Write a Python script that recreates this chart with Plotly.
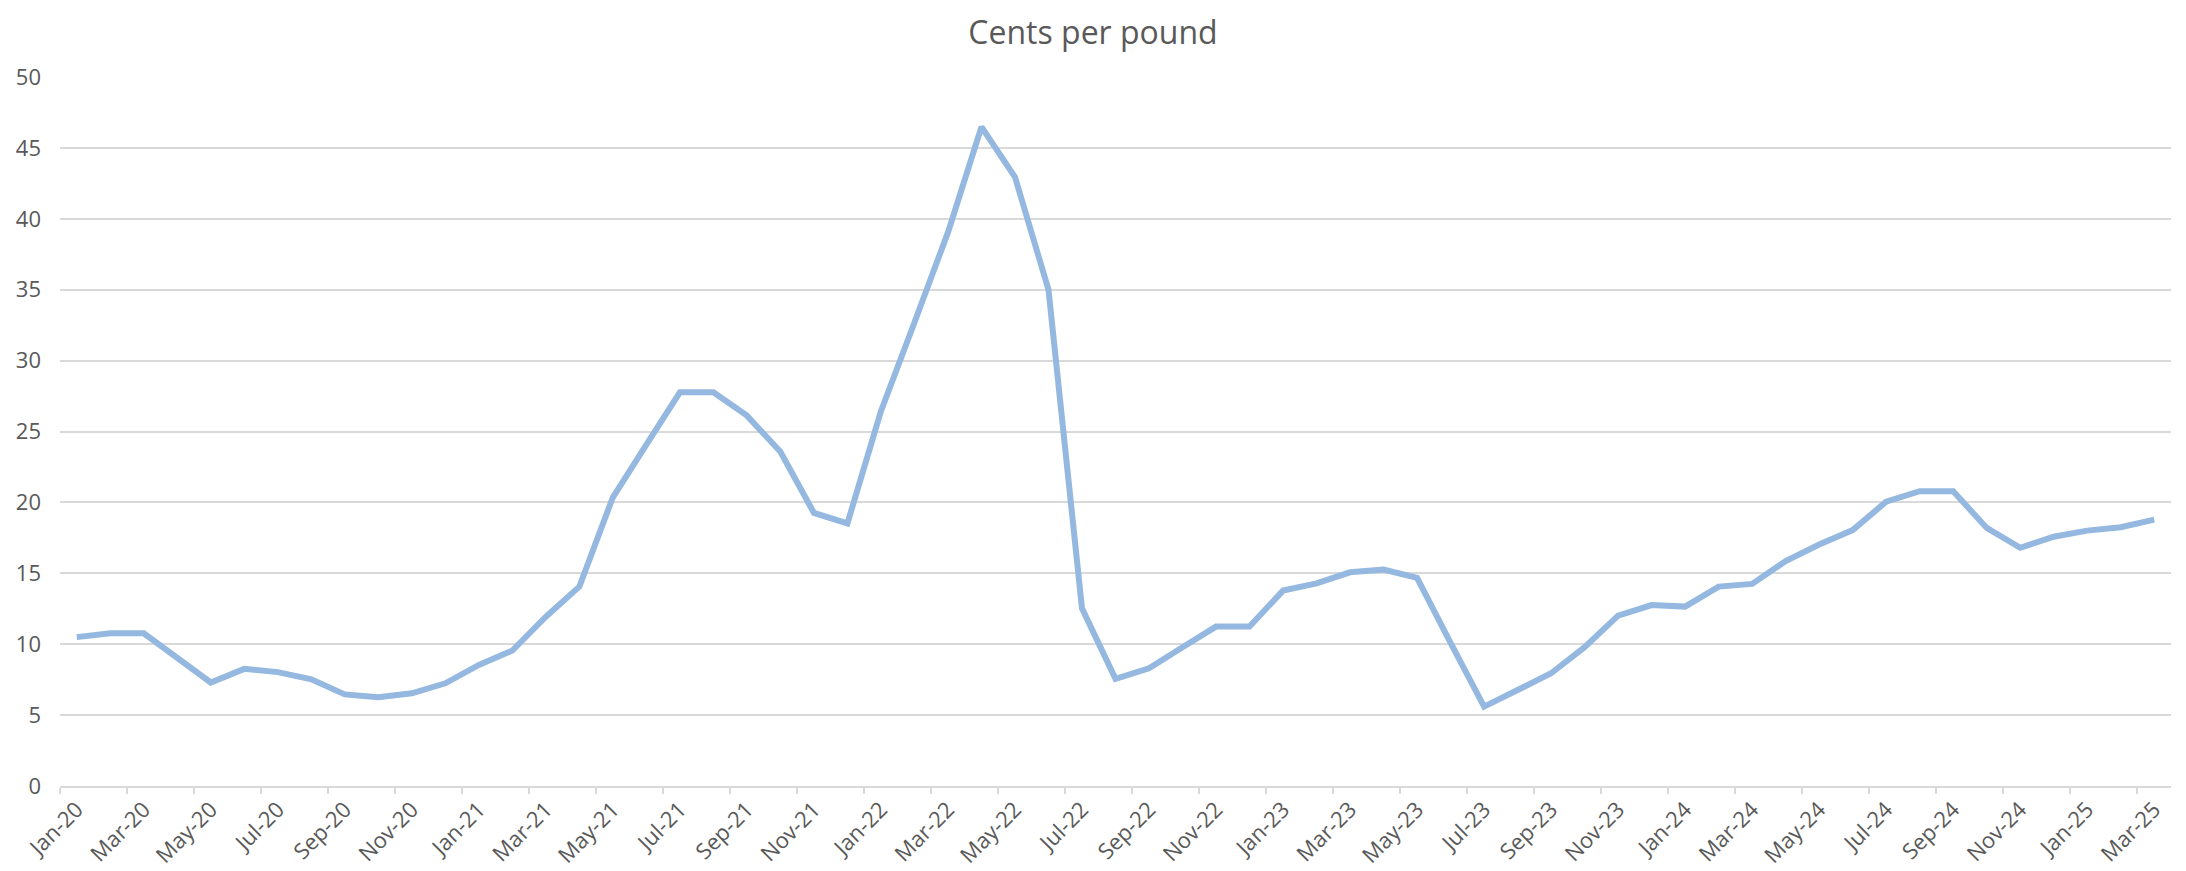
import plotly.graph_objects as go

months = [
    "Jan-20", "Feb-20", "Mar-20", "Apr-20", "May-20", "Jun-20", "Jul-20", "Aug-20", "Sep-20", "Oct-20", "Nov-20", "Dec-20",
    "Jan-21", "Feb-21", "Mar-21", "Apr-21", "May-21", "Jun-21", "Jul-21", "Aug-21", "Sep-21", "Oct-21", "Nov-21", "Dec-21",
    "Jan-22", "Feb-22", "Mar-22", "Apr-22", "May-22", "Jun-22", "Jul-22", "Aug-22", "Sep-22", "Oct-22", "Nov-22", "Dec-22",
    "Jan-23", "Feb-23", "Mar-23", "Apr-23", "May-23", "Jun-23", "Jul-23", "Aug-23", "Sep-23", "Oct-23", "Nov-23", "Dec-23",
    "Jan-24", "Feb-24", "Mar-24", "Apr-24", "May-24", "Jun-24", "Jul-24", "Aug-24", "Sep-24", "Oct-24", "Nov-24", "Dec-24",
    "Jan-25", "Feb-25", "Mar-25",
]

cents_per_pound = [
    10.5, 10.77, 10.77, 9.0, 7.3, 8.26, 8.03, 7.52, 6.46, 6.26, 6.54, 7.24,
    8.54, 9.55, 11.94, 14.06, 20.36, 24.08, 27.76, 27.76, 26.12, 23.57, 19.26, 18.52,
    26.43, 32.69, 39.04, 46.48, 42.95, 35.0, 12.53, 7.56, 8.3, 9.79, 11.24, 11.24,
    13.78, 14.29, 15.07, 15.27, 14.68, 10.1, 5.6, 6.77, 7.95, 9.79, 12.02, 12.76,
    12.65, 14.06, 14.25, 15.86, 17.03, 18.05, 20.05, 20.79, 20.79, 18.2, 16.8, 17.58,
    18.01, 18.25, 18.79,
]

title_text = "Cents per pound"

text_color = "#595959"
grid_color = "#d9d9d9"
line_color = "#95b8e0"

fig = go.Figure()
fig.add_trace(go.Scatter(
    x=months,
    y=cents_per_pound,
    mode="lines",
    line=dict(color=line_color, width=6),
    showlegend=False,
))

fig.update_layout(
    width=2186,
    height=871,
    paper_bgcolor="white",
    plot_bgcolor="white",
    margin=dict(l=60, r=15, t=77, b=85, autoexpand=False),
    title=dict(
        text=title_text,
        x=0.5,
        xanchor="center",
        y=0.975,
        yanchor="top",
        font=dict(family="Open Sans", size=32, color=text_color),
    ),
    font=dict(family="Open Sans", size=22, color=text_color),
)

fig.update_xaxes(
    type="category",
    range=[-0.5, len(months) - 0.5],
    dtick=2,
    tickson="boundaries",
    ticks="outside",
    ticklen=6,
    tickwidth=2,
    tickcolor=grid_color,
    tickangle=-45,
    showgrid=False,
    showline=True,
    linecolor=grid_color,
    linewidth=2,
    tickfont=dict(family="Open Sans", size=22, color=text_color),
    automargin=False,
)

fig.update_yaxes(
    range=[0, 50],
    dtick=5,
    tick0=0,
    showgrid=True,
    gridcolor=grid_color,
    gridwidth=1.5,
    zeroline=False,
    showline=False,
    ticks="",
    ticklabelstandoff=18,
    tickfont=dict(family="Open Sans", size=22, color=text_color),
    automargin=False,
)

fig.write_html(
    "out.html",
    config={"displayModeBar": False},
    post_script="document.body.style.margin='0px';document.body.style.overflow='hidden';",
)
